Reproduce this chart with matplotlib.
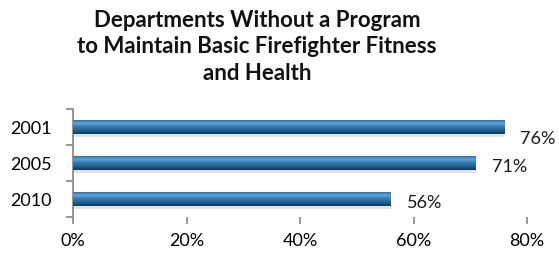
import matplotlib.pyplot as plt
import numpy as np
from matplotlib.colors import LinearSegmentedColormap

categories = ["2001", "2005", "2010"]
values = [76, 71, 56]
xticks = [0, 20, 40, 60, 80]
xticklabels = ["0%", "20%", "40%", "60%", "80%"]
title = "Departments Without a Program\nto Maintain Basic Firefighter Fitness\nand Health"

plt.rcParams['font.family'] = ['Lato', 'DejaVu Sans']

fig = plt.figure(figsize=(5.59, 2.55), dpi=100)
ax = fig.add_axes([73/559, 1-218/255, (527-73)/559, (218-110)/255])

cmap = LinearSegmentedColormap.from_list(
    "bar", [(0.0, "#1f5585"), (0.12, "#3a82b8"), (0.3, "#5ea6d7"),
            (0.5, "#367ab0"), (0.75, "#256190"), (1.0, "#133857")])
grad = np.linspace(0, 1, 64).reshape(-1, 1)

ypos = np.arange(len(categories))
h = 0.40
for y, v in zip(ypos, values):
    # shadow
    ax.barh(y + 0.08, v, height=h, color="#d0d0d0", alpha=0.6, zorder=1, left=0)
    b = ax.barh(y, v, height=h, color="none", zorder=2)
    rect = b.patches[0]
    im = ax.imshow(grad, cmap=cmap, aspect="auto",
                   extent=(0, v, y + h/2, y - h/2), zorder=3)
    im.set_clip_path(rect)
    ax.text(v + 2.8, y + (0.3 if v > 74 else 0.08), f"{v}%", va="center", ha="left",
            fontsize=13, color="#1a1a1a", zorder=4)

ax.set_xlim(0, 80)
ax.set_ylim(2.5, -0.5)
ax.set_yticks(ypos)
ax.set_yticklabels(categories, fontsize=13)
ax.set_yticks([-0.5, 0.5, 1.5, 2.5], minor=True)
ax.tick_params(axis='y', which='major', length=0, pad=15)
ax.tick_params(axis='y', which='minor', length=5, color="#868686", width=1.2)
ax.set_xticks(xticks)
ax.set_xticklabels(xticklabels, fontsize=13)
ax.tick_params(axis='x', which='major', direction='out', length=5,
               color="#868686", width=1.2, pad=6)
for s in ["top", "right"]:
    ax.spines[s].set_visible(False)
ax.spines["bottom"].set_visible(False)
ax.spines["left"].set_color("#868686")
ax.spines["left"].set_linewidth(1.2)

fig.text(0.460, 0.962, title, ha="center", va="top", fontsize=16,
         fontweight="bold", linespacing=1.33, color="#111111")

fig.savefig("out.png", dpi=100)
